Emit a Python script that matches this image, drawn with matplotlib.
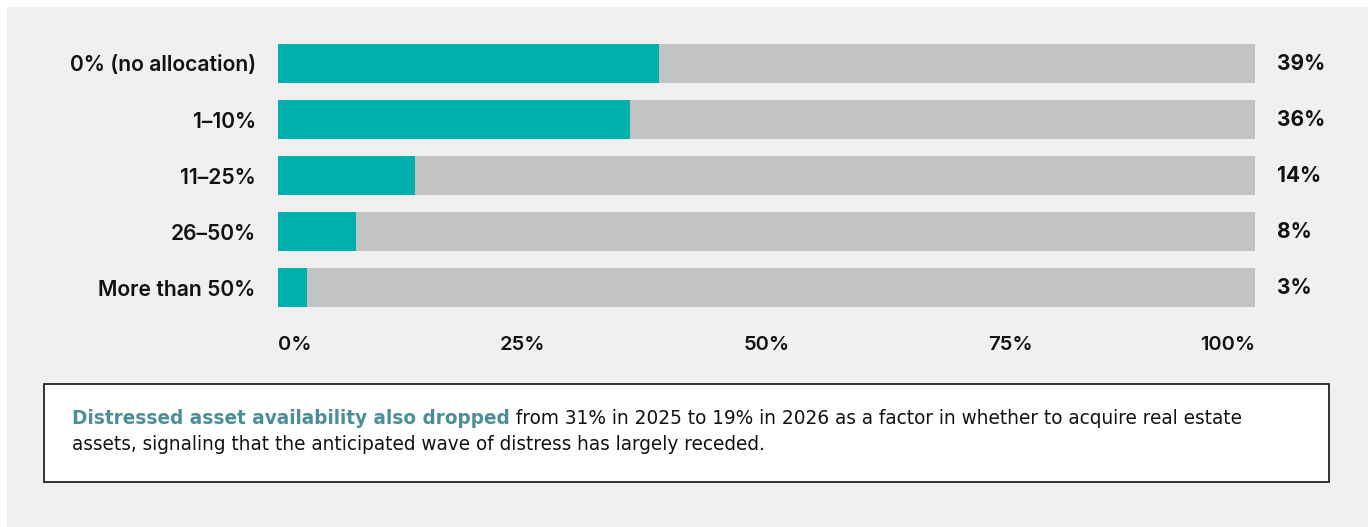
import matplotlib.pyplot as plt
from matplotlib.patches import Rectangle

# Share of portfolio allocated to distressed assets
categories = ['0% (no allocation)', '1–10%', '11–25%', '26–50%', 'More than 50%']
shares = [39, 36, 14, 8, 3]
tick_values = [0, 25, 50, 75, 100]
tick_labels = ['0%', '25%', '50%', '75%', '100%']

note_bold = 'Distressed asset availability also dropped'
note_line1 = ' from 31% in 2025 to 19% in 2026 as a factor in whether to acquire real estate'
note_line2 = 'assets, signaling that the anticipated wave of distress has largely receded.'

TEAL = '#00b0ad'
TRACK = '#c2c3c5'
BG = '#f0f0f0'
NOTE_TEAL = '#4d8f98'
INK = '#111111'
FONT = 'Inter'
NOTE_FONT = 'DejaVu Sans'

W, H = 1368, 527
fig = plt.figure(figsize=(W / 100, H / 100), dpi=100)
fig.patch.set_facecolor('white')

# light panel, leaving a thin white strip at top and left
fig.add_artist(Rectangle((7 / W, 0), 1 - 7 / W, 1 - 7 / H, transform=fig.transFigure,
                         facecolor=BG, edgecolor='none', zorder=0))

ax = fig.add_axes([278 / W, 1 - 315.5 / H, 977 / W, 280 / H])
ax.set_facecolor('none')
ypos = list(range(len(categories)))
ax.barh(ypos, [100] * len(categories), height=0.7, color=TRACK, zorder=1)
ax.barh(ypos, shares, height=0.7, color=TEAL, zorder=2)
ax.set_xlim(0, 100)
ax.set_ylim(len(categories) - 0.5, -0.5)

for s in ax.spines.values():
    s.set_visible(False)
ax.set_yticks(ypos)
ax.set_yticklabels(categories, fontsize=15.2, fontfamily=FONT, fontweight='semibold', color=INK)
ax.tick_params(axis='y', length=0, pad=16)
ax.set_xticks(tick_values)
ax.set_xticklabels(tick_labels, fontsize=14.5, fontfamily=FONT, fontweight='semibold', color=INK)
ax.tick_params(axis='x', length=0, pad=15)
xl = ax.get_xticklabels()
xl[0].set_ha('left')
xl[-1].set_ha('right')

for y, v in zip(ypos, shares):
    ax.annotate(f'{v}%', xy=(1, y), xycoords=('axes fraction', 'data'),
                xytext=(16, 0), textcoords='offset points', ha='left', va='center',
                fontsize=15, fontfamily=FONT, fontweight='bold', color=INK)

# note box under the chart
fig.add_artist(Rectangle((44 / W, 1 - 482 / H), (1329 - 44) / W, (482 - 384) / H,
                         transform=fig.transFigure, facecolor='white',
                         edgecolor=INK, linewidth=1.2, zorder=1))
x0, y1, y2 = 72 / W, 1 - 424 / H, 1 - 450 / H
t1 = fig.text(x0, y1, note_bold, fontsize=13.35, fontfamily=NOTE_FONT, fontweight='bold',
              color=NOTE_TEAL, va='baseline', zorder=3)
fig.canvas.draw()
w1 = t1.get_window_extent().width / W
fig.text(x0 + w1, y1, note_line1, fontsize=13.35, fontfamily=NOTE_FONT,
         color=INK, va='baseline', zorder=3)
fig.text(x0, y2, note_line2, fontsize=13.35, fontfamily=NOTE_FONT,
         color=INK, va='baseline', zorder=3)

fig.savefig('out.png', dpi=100, facecolor=fig.get_facecolor())
